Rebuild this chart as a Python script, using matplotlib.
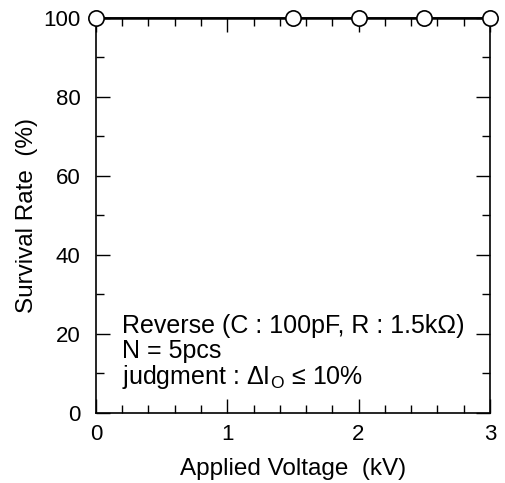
import numpy as np
import matplotlib
matplotlib.use("Agg")
import matplotlib.pyplot as plt
from matplotlib.ticker import MultipleLocator

plt.rcParams['font.family'] = ['Liberation Sans', 'DejaVu Sans']
plt.rcParams['mathtext.fontset'] = 'custom'
plt.rcParams['mathtext.rm'] = 'Liberation Sans'
plt.rcParams['mathtext.it'] = 'Liberation Sans'

voltage = [0, 1.5, 2.0, 2.5, 3.0]
survival = [100, 100, 100, 100, 100]

fig = plt.figure(figsize=(5.05, 4.83), dpi=100)
ax = fig.add_axes([0.190, 0.145, 0.780, 0.818])

ax.plot(voltage, survival, color='black', lw=1.8, marker='o', ms=11,
        mfc='white', mec='black', mew=1.2, clip_on=False, zorder=5)

ax.set_xlim(0, 3)
ax.set_ylim(0, 100)
ax.xaxis.set_major_locator(MultipleLocator(1))
ax.xaxis.set_minor_locator(MultipleLocator(0.2))
ax.yaxis.set_major_locator(MultipleLocator(20))
ax.yaxis.set_minor_locator(MultipleLocator(10))
ax.tick_params(which='both', direction='in', top=True, right=True,
               labelsize=16, width=1, color='black')
ax.tick_params(which='major', length=10)
ax.tick_params(which='minor', length=6)
ax.tick_params(axis='x', which='major', pad=8)
ax.tick_params(axis='y', which='major', pad=11)
for s in ax.spines.values():
    s.set_linewidth(1.2)

ax.set_xlabel('Applied Voltage  (kV)', fontsize=17.5, labelpad=9)
ax.set_ylabel('Survival Rate  (%)', fontsize=17.5, labelpad=4)

lines = ['Reverse (C : 100pF, R : 1.5k\u03a9)',
         'N = 5pcs',
         'judgment : \u0394I$_\\mathrm{O}$ \u2264 10%']
for i, t in enumerate(lines):
    ax.text(0.2, 22 - i * 6.4, t, fontsize=18, va='center', ha='left')

fig.savefig('out.png', dpi=100)
